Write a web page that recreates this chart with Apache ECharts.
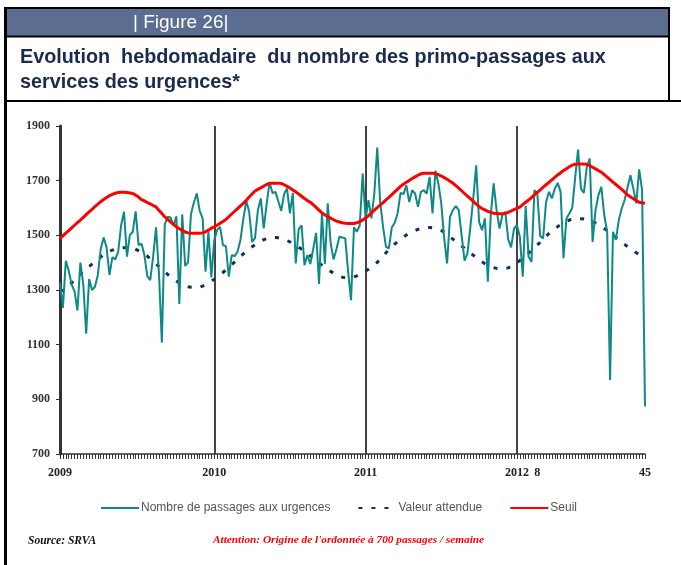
<!DOCTYPE html>
<html><head><meta charset="utf-8">
<script src="https://cdn.jsdelivr.net/npm/echarts@6/dist/echarts.min.js"></script>
<style>html,body{margin:0;padding:0;background:#fff}#c{width:681px;height:565px}</style>
</head><body><div id="c"></div>
<script>
// Weeks per year shown (2009: 53 ISO weeks, 2010: 52, 2011: 52, 2012: up to week 45)
const years = [2009, 2010, 2011, 2012];
const weeksPerYear = [53, 52, 52, 45];
// x tick labels and the week index where they sit
const tickLabels = ['2009', '2010', '2011', '2012', '8', '45'];
const tickIndex = [0, 53, 105, 157, 164, 201];
const yearStartIndex = [53, 105, 157];
// y axis
const yMin = 700, yMax = 1900, yStep = 200;

// Nombre de passages aux urgences (weekly)
const passages = [
1327,1235,1407,1370,1320,1295,1225,1400,1320,1140,
1340,1300,1312,1355,1450,1492,1456,1355,1420,1412,
1440,1537,1586,1422,1501,1513,1588,1464,1470,1428,
1351,1336,1422,1529,1361,1107,1540,1568,1565,1535,
1570,1249,1577,1388,1400,1577,1620,1653,1590,1562,
1367,1513,1346,1483,1520,1531,1464,1461,1349,1428,
1424,1440,1483,1560,1626,1586,1476,1490,1592,1635,
1525,1614,1695,1655,1659,1625,1590,1651,1671,1580,
1655,1397,1522,1537,1391,1428,1395,1450,1509,1322,
1580,1395,1617,1470,1412,1450,1495,1492,1489,1367,
1263,1529,1513,1537,1726,1560,1629,1562,1653,1821,
1622,1531,1458,1452,1529,1546,1580,1655,1651,1683,
1622,1665,1653,1604,1659,1665,1653,1714,1580,1736,
1690,1617,1489,1397,1568,1592,1607,1592,1500,1407,
1434,1531,1635,1756,1549,1519,1562,1330,1574,1690,
1592,1525,1574,1586,1485,1456,1525,1537,1495,1349,
1607,1422,1403,1665,1653,1497,1489,1622,1659,1635,
1670,1692,1659,1416,1562,1580,1600,1710,1814,1671,
1655,1750,1781,1476,1592,1647,1677,1574,1513,971,
1513,1483,1556,1598,1629,1675,1720,1670,1617,1741,
1665,874];

// Valeur attendue (weekly)
const attendue = [
1293,1300,1309,1318,1326,1337,1347,1358,1368,1377,
1386,1395,1404,1413,1421,1430,1437,1442,1446,1450,
1452,1454,1455,1456,1456,1453,1449,1444,1439,1432,
1424,1414,1405,1396,1385,1376,1367,1357,1348,1340,
1333,1326,1319,1315,1312,1310,1308,1308,1310,1314,
1319,1325,1332,1339,1347,1355,1364,1373,1382,1392,
1403,1414,1423,1432,1442,1451,1458,1465,1472,1479,
1484,1488,1491,1492,1492,1491,1488,1486,1481,1476,
1469,1464,1457,1449,1441,1434,1425,1417,1408,1399,
1391,1383,1375,1368,1362,1356,1350,1347,1346,1345,
1346,1348,1352,1357,1362,1369,1376,1383,1390,1401,
1412,1424,1436,1447,1458,1468,1477,1485,1493,1501,
1507,1513,1518,1522,1525,1527,1529,1529,1528,1526,
1522,1518,1511,1503,1494,1486,1478,1470,1461,1453,
1444,1436,1427,1419,1411,1403,1396,1391,1386,1382,
1379,1378,1378,1379,1381,1386,1393,1400,1408,1417,
1426,1435,1445,1455,1465,1474,1485,1496,1507,1516,
1524,1532,1540,1546,1551,1556,1560,1562,1562,1561,
1560,1558,1555,1550,1545,1539,1532,1525,1518,1510,
1501,1492,1483,1475,1467,1458,1450,1443,1436,1429,
1422,1416];

// Seuil (weekly)
const seuil = [
1489,1498,1508,1517,1527,1537,1547,1556,1566,1576,
1586,1595,1605,1614,1623,1631,1638,1645,1650,1654,
1657,1658,1658,1657,1655,1653,1647,1640,1631,1626,
1620,1615,1609,1604,1592,1580,1568,1558,1549,1540,
1531,1524,1518,1512,1509,1508,1508,1508,1508,1509,
1513,1519,1526,1531,1537,1544,1551,1558,1568,1578,
1588,1598,1608,1617,1628,1640,1651,1662,1668,1674,
1680,1686,1690,1691,1691,1691,1690,1685,1679,1673,
1666,1659,1651,1643,1635,1627,1621,1612,1602,1592,
1582,1575,1569,1563,1557,1552,1549,1546,1544,1543,
1543,1543,1546,1550,1556,1563,1572,1582,1592,1601,
1611,1620,1630,1639,1649,1659,1669,1679,1687,1694,
1701,1708,1714,1720,1725,1727,1727,1727,1727,1726,
1722,1717,1711,1705,1698,1691,1682,1673,1663,1653,
1643,1634,1624,1614,1605,1598,1593,1588,1584,1581,
1580,1579,1579,1580,1584,1589,1594,1599,1603,1612,
1621,1629,1638,1648,1657,1666,1676,1685,1694,1703,
1712,1721,1729,1737,1744,1751,1757,1760,1761,1761,
1761,1760,1755,1749,1743,1737,1731,1722,1713,1704,
1695,1686,1677,1668,1658,1648,1641,1634,1627,1621,
1619,1617];

const seriesNames = ['Nombre de passages aux urgences', 'Valeur attendue', 'Seuil'];

const categories = [];
years.forEach((y, k) => { for (let w = 1; w <= weeksPerYear[k]; w++) categories.push(y + '-S' + w); });

const chart = echarts.init(document.getElementById('c'), null, {renderer: 'canvas'});
const serif = '"Liberation Serif", "Times New Roman", serif';
const sans = '"Liberation Sans", Arial, sans-serif';

chart.setOption({
  animation: false,
  backgroundColor: '#ffffff',
  graphic: [
    {type: 'rect', shape: {x: 6, y: 8, width: 663, height: 28}, style: {fill: '#5B6E92'}, z: 0},
    {type: 'line', shape: {x1: 5, y1: 8, x2: 670, y2: 8}, style: {stroke: '#000', lineWidth: 2}},
    {type: 'line', shape: {x1: 5, y1: 36.5, x2: 670, y2: 36.5}, style: {stroke: '#000', lineWidth: 2}},
    {type: 'line', shape: {x1: 5, y1: 101, x2: 681, y2: 101}, style: {stroke: '#000', lineWidth: 2}},
    {type: 'line', shape: {x1: 5.5, y1: 7, x2: 5.5, y2: 565}, style: {stroke: '#000', lineWidth: 3}},
    {type: 'line', shape: {x1: 669, y1: 7, x2: 669, y2: 101}, style: {stroke: '#000', lineWidth: 2}}
  ],
  title: [
    {text: '| Figure 26|', left: 128, top: 8, textStyle: {color: '#ffffff', fontFamily: sans, fontSize: 19, fontWeight: 'normal'}},
    {text: 'Evolution  hebdomadaire  du nombre des primo-passages aux\nservices des urgences*', left: 15, top: 40,
      textStyle: {color: '#1B2B4D', fontFamily: sans, fontSize: 19.8, fontWeight: 'bold', lineHeight: 25}},
    {text: 'Source: SRVA', left: 23, top: 530, textStyle: {color: '#111', fontFamily: serif, fontSize: 11.5, fontWeight: 'bold', fontStyle: 'italic'}},
    {text: "Attention: Origine de l'ordonnée à 700 passages / semaine", left: 208, top: 530,
      textStyle: {color: '#FF0000', fontFamily: serif, fontSize: 11.3, fontWeight: 'bold', fontStyle: 'italic'}}
  ],
  legend: {
    left: 95, top: 497, itemWidth: 38, itemHeight: 10, itemGap: 27,
    itemStyle: {opacity: 0},
    textStyle: {fontFamily: sans, fontSize: 12, color: '#555', padding: [0, 0, 0, -3]},
    data: seriesNames
  },
  grid: {left: 60, right: 36, top: 126, height: 328, containLabel: false},
  xAxis: {
    type: 'category', data: categories, boundaryGap: false,
    axisLine: {lineStyle: {color: '#333', width: 1.5}},
    axisTick: {show: true, interval: 0, length: 5, lineStyle: {color: '#333', width: 1}},
    axisLabel: {interval: 0, margin: 13, fontFamily: serif, fontWeight: 'bold', fontSize: 12, color: '#222',
      formatter: (v, i) => { const k = tickIndex.indexOf(i); return k >= 0 ? tickLabels[k] : ''; }},
    splitLine: {show: true, interval: (i) => yearStartIndex.indexOf(i) >= 0, lineStyle: {color: '#444', width: 2}}
  },
  yAxis: {
    type: 'value', min: yMin, max: yMax, interval: yStep,
    axisLine: {show: true, lineStyle: {color: '#333', width: 3}},
    axisTick: {show: true, length: 4, lineStyle: {color: '#333'}},
    axisLabel: {margin: 10, fontFamily: serif, fontWeight: 'bold', fontSize: 12, color: '#333',
      formatter: (v) => String(v)},
    splitLine: {show: false}
  },
  series: [
    {name: seriesNames[0], type: 'line', data: passages, symbol: 'none', z: 3,
      lineStyle: {color: '#0E8A86', width: 2}, itemStyle: {color: '#0E8A86'}},
    {name: seriesNames[1], type: 'line', data: attendue, symbol: 'none', z: 2,
      lineStyle: {color: '#0B2F66', width: 3, type: [4, 9]}, itemStyle: {color: '#0B2F66'}},
    {name: seriesNames[2], type: 'line', data: seuil, symbol: 'none', z: 4,
      lineStyle: {color: '#FF0000', width: 3}, itemStyle: {color: '#FF0000'}}
  ]
});
</script></body></html>
